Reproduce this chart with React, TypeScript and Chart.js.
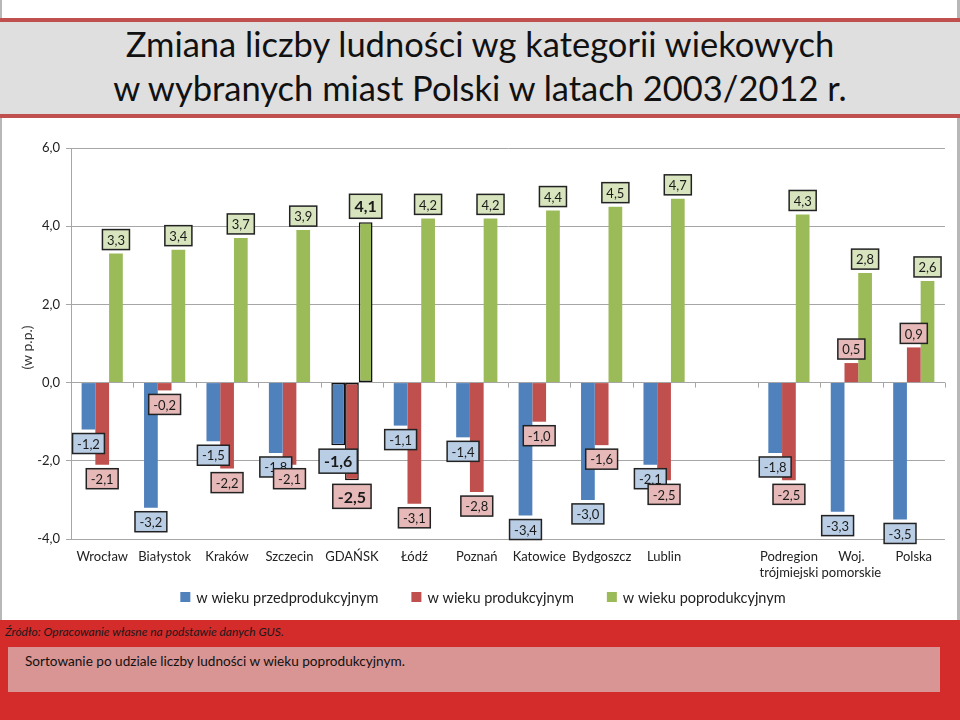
import React, { useEffect, useRef } from "react";
import { Chart, registerables } from "chart.js";

Chart.register(...registerables);

const categories: (string | string[])[] = [
  "Wrocław",
  "Białystok",
  "Kraków",
  "Szczecin",
  "GDAŃSK",
  "Łódź",
  "Poznań",
  "Katowice",
  "Bydgoszcz",
  "Lublin",
  "",
  ["Podregion", "trójmiejski"],
  ["Woj.", "pomorskie"],
  "Polska",
];

const seriesNames = [
  "w wieku przedprodukcyjnym",
  "w wieku produkcyjnym",
  "w wieku poprodukcyjnym",
];

const przedprodukcyjny = [-1.2, -3.2, -1.5, -1.8, -1.6, -1.1, -1.4, -3.4, -3.0, -2.1, null, -1.8, -3.3, -3.5];
const produkcyjny = [-2.1, -0.2, -2.2, -2.1, -2.5, -3.1, -2.8, -1.0, -1.6, -2.5, null, -2.5, 0.5, 0.9];
const poprodukcyjny = [3.3, 3.4, 3.7, 3.9, 4.1, 4.2, 4.2, 4.4, 4.5, 4.7, null, 4.3, 2.8, 2.6];

const yTicks = [-4, -2, 0, 2, 4, 6];

const HIGHLIGHT = 4;
const FONT = "Lato";
const barColors = ["#4f81bd", "#c0504d", "#9bbb59"];
const labelFills = ["#b9cde5", "#e6b9b8", "#d7e4bd"];

const fmt = (v: number) => v.toFixed(1).replace(".", ",");

const boxLabels = {
  id: "boxLabels",
  afterDatasetsDraw(chart: any) {
    const ctx = chart.ctx;
    ctx.save();
    chart.data.datasets.forEach((ds: any, di: number) => {
      const meta = chart.getDatasetMeta(di);
      meta.data.forEach((bar: any, i: number) => {
        const v = ds.data[i];
        if (v == null) return;
        const bold = i === HIGHLIGHT;
        const fs = bold ? 16 : 13;
        ctx.font = `${bold ? "bold " : ""}${fs}px ${FONT}`;
        const text = fmt(v);
        const w = ctx.measureText(text).width + (bold ? 10 : 9);
        const h = bold ? 24 : 20;
        const x = bar.x;
        const top = v >= 0 ? bar.y - 4 - h : bar.y + 4;
        ctx.fillStyle = labelFills[di];
        ctx.fillRect(x - w / 2, top, w, h);
        ctx.strokeStyle = "#222";
        ctx.lineWidth = 1.5;
        ctx.strokeRect(x - w / 2, top, w, h);
        ctx.fillStyle = "#1a1a1a";
        ctx.textAlign = "center";
        ctx.textBaseline = "middle";
        ctx.fillText(text, x, top + h / 2 + 1);
      });
    });
    ctx.restore();
  },
};

const extras = {
  id: "extras",
  afterDraw(chart: any) {
    const ctx = chart.ctx;
    const xs = chart.scales.x;
    const ys = chart.scales.y;
    const y0 = ys.getPixelForValue(0);
    const slot = xs.getPixelForValue(1) - xs.getPixelForValue(0);
    ctx.save();
    ctx.strokeStyle = "#a6a6a6";
    ctx.lineWidth = 1;
    for (let i = 1; i <= categories.length; i++) {
      const x = Math.round(xs.getPixelForValue(i) - slot / 2) + 0.5;
      ctx.beginPath();
      ctx.moveTo(x, y0);
      ctx.lineTo(x, y0 + 5);
      ctx.stroke();
    }
    // custom legend (square, gap, text; items separated)
    ctx.font = `14.5px ${FONT}`;
    ctx.textBaseline = "middle";
    ctx.textAlign = "left";
    const box = 10;
    const gap = 6;
    const itemGap = 33;
    const items = chart.data.datasets.map((d: any) => ({
      text: d.label,
      color: d.backgroundColor,
      w: box + gap + ctx.measureText(d.label).width,
    }));
    const total = items.reduce((a: number, it: any) => a + it.w, 0) + itemGap * (items.length - 1);
    let lx = chart.width / 2 + 3 - total / 2;
    const ly = 467;
    items.forEach((it: any) => {
      ctx.fillStyle = it.color;
      ctx.fillRect(lx, ly - box / 2, box, box);
      ctx.fillStyle = "#222";
      ctx.fillText(it.text, lx + box + gap, ly + 1);
      lx += it.w + itemGap;
    });
    // y-axis title
    ctx.translate(27, (chart.chartArea.top + chart.chartArea.bottom) / 2 + 4);
    ctx.rotate(-Math.PI / 2);
    ctx.font = `14px ${FONT}`;
    ctx.fillStyle = "#333";
    ctx.textAlign = "center";
    ctx.textBaseline = "middle";
    ctx.fillText("(w p.p.)", 0, 0);
    ctx.restore();
  },
};

export default function App() {
  const ref = useRef<HTMLCanvasElement>(null);

  useEffect(() => {
    if (!ref.current) return;
    const mk = (data: (number | null)[], idx: number) => ({
      label: seriesNames[idx],
      data,
      backgroundColor: barColors[idx],
      borderColor: "#111",
      borderWidth: (c: any) => (c.dataIndex === HIGHLIGHT ? 1.5 : 0),
      borderSkipped: false,
      categoryPercentage: 0.66,
      barPercentage: 1.0,
    });
    const chart = new Chart(ref.current, {
      type: "bar",
      data: {
        labels: categories,
        datasets: [mk(przedprodukcyjny, 0), mk(produkcyjny, 1), mk(poprodukcyjny, 2)],
      },
      options: {
        animation: false,
        responsive: false,
        maintainAspectRatio: false,
        layout: { padding: { top: 18, left: 0, right: 15, bottom: 36 } },
        plugins: {
          tooltip: { enabled: false },
          legend: { display: false },
        },
        scales: {
          x: {
            grid: { display: false, drawTicks: false },
            border: { display: false },
            ticks: {
              color: "#222",
              font: { family: FONT, size: 13 },
              padding: 10,
              autoSkip: false,
              maxRotation: 0,
            },
            afterFit: (s: any) => {
              s.height = 45;
            },
          },
          y: {
            min: -4,
            max: 6,
            afterBuildTicks: (s: any) => {
              s.ticks = yTicks.map((v) => ({ value: v }));
            },
            grid: { color: "#a6a6a6", tickLength: 5 },
            border: { color: "#a6a6a6" },
            ticks: {
              color: "#222",
              font: { family: FONT, size: 13 },
              padding: 6,
              callback: (v: any) => fmt(Number(v)),
            },
            afterFit: (s: any) => {
              s.width = 71;
            },
          },
        },
      },
      plugins: [boxLabels, extras],
    });
    return () => chart.destroy();
  }, []);

  return (
    <div
      style={{
        position: "fixed",
        left: 0,
        top: 0,
        width: 960,
        height: 720,
        overflow: "hidden",
        background: "#fff",
        fontFamily: FONT,
      }}
    >
      <div style={{ position: "absolute", left: 0, top: 0, width: 2, height: 720, background: "#b8b8b8" }} />
      <div style={{ position: "absolute", left: 957, top: 0, width: 3, height: 720, background: "#b8b8b8" }} />
      <div style={{ position: "absolute", left: 0, top: 18, width: 960, height: 4, background: "#c0504d" }} />
      <div style={{ position: "absolute", left: 0, top: 22, width: 960, height: 92, background: "#dfdfdf" }} />
      <div style={{ position: "absolute", left: 0, top: 114, width: 960, height: 4, background: "#c0504d" }} />
      <div
        style={{
          position: "absolute",
          left: 0,
          top: 22,
          width: 960,
          textAlign: "center",
          fontSize: 34.5,
          lineHeight: "44px",
          color: "#111",
        }}
      >
        Zmiana liczby ludności wg kategorii wiekowych
        <br />w wybranych miast Polski w latach 2003/2012 r.
      </div>
      <canvas ref={ref} width={960} height={490} style={{ position: "absolute", left: 0, top: 130, width: 960, height: 490 }} />
      <div style={{ position: "absolute", left: 0, top: 620, width: 960, height: 100, background: "#d42b2b" }} />
      <div
        style={{
          position: "absolute",
          left: 5,
          top: 624,
          fontSize: 12,
          fontStyle: "italic",
          color: "#1a1a1a",
          lineHeight: "16px",
        }}
      >
        Źródło: Opracowanie własne na podstawie danych GUS.
      </div>
      <div
        style={{
          position: "absolute",
          left: 8,
          top: 647,
          width: 932,
          height: 45,
          background: "#d99594",
        }}
      />
      <div style={{ position: "absolute", left: 25, top: 652, fontSize: 13.6, color: "#111", lineHeight: "18px" }}>
        Sortowanie po udziale liczby ludności w wieku poprodukcyjnym.
      </div>
    </div>
  );
}
